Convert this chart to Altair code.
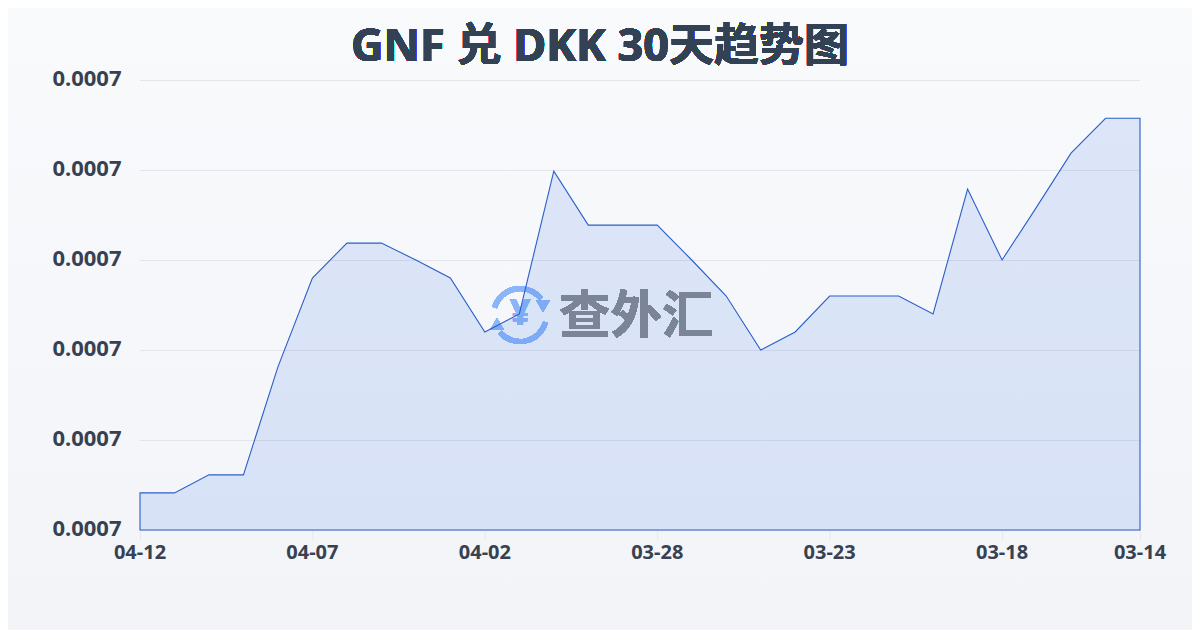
import altair as alt
import pandas as pd

dates = ["04-12","04-11","04-10","04-09","04-08","04-07","04-06","04-05","04-04","04-03",
         "04-02","04-01","03-31","03-30","03-29","03-28","03-27","03-26","03-25","03-24",
         "03-23","03-22","03-21","03-20","03-19","03-18","03-17","03-16","03-15","03-14"]
values = [0.0007033,0.0007033,0.0007049,0.0007049,0.0007145,0.0007224,0.0007255,0.0007255,0.0007240,0.0007224,
          0.0007176,0.0007192,0.0007319,0.0007271,0.0007271,0.0007271,0.0007240,0.0007208,0.0007160,0.0007176,
          0.0007208,0.0007208,0.0007208,0.0007192,0.0007303,0.0007240,0.0007287,0.0007335,0.0007366,0.0007366]
y_ticks = [0.00070,0.000708,0.000716,0.000724,0.000732,0.00074]
x_ticks = ["04-12","04-07","04-02","03-28","03-23","03-18","03-14"]
base_value = 0.00070
title_text = "GNF 兑 DKK 30天趋势图"
mark_text_cn = "查外汇"
FONT = "Noto Sans, Noto Sans CJK SC"
TEXT = "#374151"
BLUE = "#8ab6f9"

df = pd.DataFrame({"date": dates, "rate": values, "base": [base_value] * len(dates)})
grid_df = pd.DataFrame({"tick": y_ticks})
xt_df = pd.DataFrame({"label": x_ticks})

x_scale = alt.Scale(type="point", domain=dates, padding=0)
x_enc = alt.X("date:N", sort=None, scale=x_scale, axis=None)
y_scale = alt.Scale(domain=[0.00070, 0.00074], nice=False, zero=False)
y_enc = alt.Y("rate:Q", scale=y_scale,
              axis=alt.Axis(values=y_ticks, format=".4f", title=None, labelFont=FONT, labelFontSize=22,
                            labelFontWeight="bold", labelColor=TEXT, labelPadding=19, ticks=False,
                            domain=False, grid=False, zindex=1, labelOffset=-2))

bg = alt.Chart(df).mark_rect(
    color=alt.Gradient(gradient="linear", x1=0, x2=0, y1=0, y2=1,
                       stops=[alt.GradientStop(color="#f9fafc", offset=0),
                              alt.GradientStop(color="#f2f4f8", offset=1)])
).encode(x=alt.value(-132), x2=alt.value(1052), y=alt.value(-72), y2=alt.value(550))

grid = alt.Chart(grid_df).mark_rule(color="#e2e5ea", strokeWidth=1, yOffset=0.5).encode(
    y=alt.Y("tick:Q", scale=y_scale, title=None), x=alt.value(0), x2=alt.value(1000))

cx, cy = 380, 235
arc1 = alt.Chart(df).mark_arc(color=BLUE, radius=29, radius2=24, theta=5.0, theta2=7.2).encode(
    x=alt.value(cx), y=alt.value(cy))
arc2 = alt.Chart(df).mark_arc(color=BLUE, radius=29, radius2=24, theta=1.85, theta2=4.0).encode(
    x=alt.value(cx), y=alt.value(cy))
tri1 = alt.Chart(df).mark_point(shape="triangle-down", size=190, filled=True, color=BLUE, opacity=1).encode(
    x=alt.value(cx + 23), y=alt.value(cy - 9))
tri2 = alt.Chart(df).mark_point(shape="triangle-up", size=190, filled=True, color=BLUE, opacity=1).encode(
    x=alt.value(cx - 23), y=alt.value(cy + 9))
yen = alt.Chart(df).mark_text(text="¥", font=FONT, fontSize=36, fontWeight="bold", color=BLUE).encode(
    x=alt.value(cx), y=alt.value(cy - 1))
wm = alt.Chart(df).mark_text(text=mark_text_cn, font="Noto Sans CJK SC", fontSize=51.5, fontWeight="bold",
                             color="#7c8597", align="left").encode(x=alt.value(419), y=alt.value(238))

area = alt.Chart(df).mark_area(fill="#2563eb", fillOpacity=0.13, stroke="#2a5fc9", strokeWidth=1.1,
                               interpolate="linear").encode(x=x_enc, y=y_enc, y2="base:Q")

x_label_enc = alt.X("label:N", sort=None, scale=x_scale, axis=None)
x_tick_marks = alt.Chart(xt_df).mark_rule(color="#e5e7eb", strokeWidth=1, xOffset=0.5).encode(
    x=x_label_enc, y=alt.value(450), y2=alt.value(460))
x_labels = alt.Chart(xt_df).mark_text(font=FONT, fontSize=20, fontWeight="bold", color=TEXT).encode(
    x=x_label_enc, y=alt.value(473), text="label:N")

title = alt.Chart(df).mark_text(text=title_text, font=FONT, fontSize=45, fontWeight="bold",
                                color="#334155").encode(x=alt.value(460), y=alt.value(-33))

chart = alt.layer(bg, grid, arc1, arc2, tri1, tri2, yen, x_tick_marks, area, wm, x_labels, title).properties(
    width=1000, height=450, background="#f5f7fa",
    autosize=alt.AutoSizeParams(type="none"),
    padding={"left": 132, "top": 72, "right": 52, "bottom": 100},
).configure_view(stroke=None)

chart.save("out.html", embed_options={"renderer": "svg", "actions": False})
